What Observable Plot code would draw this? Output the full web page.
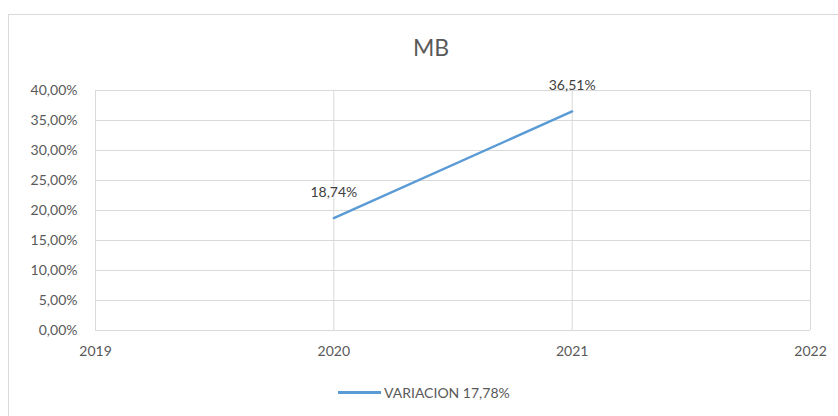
<!DOCTYPE html>
<html>
<head>
<meta charset="utf-8">
<script src="https://cdn.jsdelivr.net/npm/d3@7"></script>
<script src="https://cdn.jsdelivr.net/npm/@observablehq/plot@0.6"></script>
<style>
  html, body { margin: 0; padding: 0; background: #fff; }
  body { width: 838px; height: 416px; position: relative; overflow: hidden; font-family: Lato, "Open Sans", sans-serif; }
  #frame { position: absolute; left: 8px; top: 14px; width: 840px; height: 420px; border: 1px solid #d9d9d9; box-sizing: border-box; }
  #title { position: absolute; left: 24px; width: 814px; top: 33px; text-align: center; font-size: 23px; color: #595959; }
  #chart { position: absolute; left: 0; top: 0; }
  #legend { position: absolute; top: 384px; left: 338px; font-size: 14px; color: #595959; display: flex; align-items: center; }
  #legend .sw { width: 43px; height: 3px; background: #5B9BD5; margin-right: 3px; }
</style>
</head>
<body>
<div id="frame"></div>
<div id="chart"></div>
<div id="title">MB</div>
<div id="legend"><span class="sw"></span><span>VARIACION 17,78%</span></div>
<script>
const years = [2020, 2021];
const variacion = [18.74, 36.51];
const xTicks = [2019, 2020, 2021, 2022];
const yTicks = [0, 5, 10, 15, 20, 25, 30, 35, 40];

const data = years.map((y, i) => ({year: y, value: variacion[i]}));
const fmt = v => v.toFixed(2).replace(".", ",") + "%";

const chart = Plot.plot({
  width: 838,
  height: 416,
  marginLeft: 95,
  marginRight: 28,
  marginTop: 90,
  marginBottom: 86,
  style: {fontFamily: "Lato, 'Open Sans', sans-serif", fontSize: "14px", color: "#595959", background: "transparent"},
  x: {domain: [2019, 2022], ticks: xTicks, tickFormat: d => String(d), label: null},
  y: {domain: [0, 40], ticks: yTicks, tickFormat: fmt, label: null},
  marks: [
    Plot.gridY(yTicks, {stroke: "#d9d9d9", strokeOpacity: 1, strokeWidth: 1}),
    Plot.gridX(xTicks, {stroke: "#d9d9d9", strokeOpacity: 1, strokeWidth: 1}),
    Plot.axisY({ticks: yTicks, tickFormat: fmt, tickSize: 0, tickPadding: 18, fontSize: 14, fill: "#595959", label: null}),
    Plot.axisX({ticks: xTicks, tickFormat: d => String(d), tickSize: 0, tickPadding: 16, fontSize: 14, fill: "#595959", label: null}),
    Plot.ruleY([0], {stroke: "#d9d9d9"}),
    Plot.line(data, {x: "year", y: "value", stroke: "#5B9BD5", strokeWidth: 2.5}),
    Plot.text(data, {x: "year", y: "value", text: d => fmt(d.value), dy: -26, fontSize: 14, fill: "#404040"})
  ]
});
document.getElementById("chart").appendChild(chart);
</script>
</body>
</html>
